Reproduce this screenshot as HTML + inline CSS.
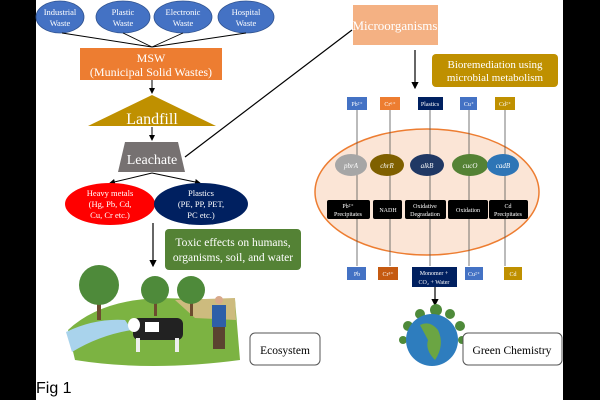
<!DOCTYPE html>
<html><head><meta charset="utf-8"><style>
html,body{margin:0;padding:0;background:#fff;}
svg{display:block;font-family:"Liberation Serif",serif;}
</style></head><body>
<svg width="600" height="400" viewBox="0 0 600 400" xmlns="http://www.w3.org/2000/svg">
<defs><marker id="a" markerWidth="6" markerHeight="6" refX="5" refY="3" orient="auto"><path d="M0,0L6,3L0,6z" fill="#000"/></marker></defs>
<rect x="0" y="0" width="36" height="400" fill="#000"/>
<rect x="563" y="0" width="37" height="400" fill="#000"/>
<g fill="#4472C4" stroke="#2F528F" stroke-width="0.8">
<ellipse cx="60" cy="17" rx="24" ry="16"/><ellipse cx="123" cy="17" rx="27" ry="16"/>
<ellipse cx="183" cy="17" rx="29" ry="16"/><ellipse cx="246" cy="17" rx="28" ry="16"/></g>
<g fill="#fff" font-size="8.5" text-anchor="middle">
<text x="60" y="15">Industrial</text><text x="60" y="26">Waste</text>
<text x="123" y="15">Plastic</text><text x="123" y="26">Waste</text>
<text x="183" y="15">Electronic</text><text x="183" y="26">Waste</text>
<text x="246" y="15">Hospital</text><text x="246" y="26">Waste</text></g>
<g stroke="#000" stroke-width="0.9">
<line x1="62" y1="33" x2="152" y2="47"/><line x1="123" y1="33" x2="152" y2="47"/>
<line x1="183" y1="33" x2="152" y2="47"/><line x1="246" y1="33" x2="152" y2="47"/></g>
<rect x="80" y="48" width="142" height="32" fill="#ED7D31"/>
<text x="151" y="62" fill="#fff" font-size="12" text-anchor="middle">MSW</text>
<text x="151" y="76" fill="#fff" font-size="12" text-anchor="middle">(Municipal Solid Wastes)</text>
<line x1="152" y1="80" x2="152" y2="93" stroke="#000" marker-end="url(#a)"/>
<polygon points="152,95 88,126 216,126" fill="#BF9000"/>
<text x="152" y="124" fill="#fff" font-size="16" text-anchor="middle">Landfill</text>
<line x1="152" y1="127" x2="152" y2="140" stroke="#000" marker-end="url(#a)"/>
<polygon points="125,142 178,142 185,172 118,172" fill="#767171"/>
<text x="152" y="164" fill="#fff" font-size="14" text-anchor="middle">Leachate</text>
<line x1="185" y1="157" x2="352" y2="30" stroke="#000" stroke-width="1.2"/>
<line x1="152" y1="173" x2="110" y2="183" stroke="#000" marker-end="url(#a)"/>
<line x1="152" y1="173" x2="200" y2="183" stroke="#000" marker-end="url(#a)"/>
<ellipse cx="110" cy="204" rx="45" ry="21" fill="#FF0000"/>
<ellipse cx="201" cy="204" rx="47" ry="21" fill="#002060"/>
<g fill="#fff" font-size="8.5" text-anchor="middle">
<text x="110" y="196">Heavy metals</text><text x="110" y="207">(Hg, Pb, Cd,</text><text x="110" y="218">Cu, Cr etc.)</text>
<text x="201" y="196">Plastics</text><text x="201" y="207">(PE, PP, PET,</text><text x="201" y="218">PC etc.)</text></g>
<line x1="153" y1="223" x2="153" y2="266" stroke="#000" stroke-width="1.2" marker-end="url(#a)"/>
<rect x="165" y="229" width="136" height="41" rx="4" fill="#548235"/>
<text x="233" y="246" fill="#fff" font-size="11.5" text-anchor="middle">Toxic effects on humans,</text>
<text x="233" y="261" fill="#fff" font-size="11.5" text-anchor="middle">organisms, soil, and water</text>
<path d="M68,330 Q100,300 160,298 L235,300 L240,360 Q150,372 75,360 Z" fill="#7CB342"/>
<path d="M66,332 Q95,318 125,320 L132,330 Q100,335 72,352 Z" fill="#A9D3EC"/>
<path d="M175,300 L235,298 L236,320 L195,318 Z" fill="#CDBB7E"/>
<rect x="97" y="300" width="4" height="20" fill="#6D4C2F"/><circle cx="99" cy="285" r="20" fill="#4E8A3A"/>
<rect x="154" y="300" width="3" height="16" fill="#6D4C2F"/><circle cx="155" cy="290" r="14" fill="#4E8A3A"/>
<rect x="190" y="300" width="3" height="16" fill="#6D4C2F"/><circle cx="191" cy="290" r="14" fill="#4E8A3A"/>
<rect x="212" y="305" width="14" height="22" fill="#2E5FA8"/><circle cx="219" cy="300" r="4" fill="#D9A98A"/>
<rect x="213" y="327" width="12" height="22" fill="#5B4330"/>
<rect x="133" y="318" width="50" height="22" rx="6" fill="#222"/><rect x="145" y="322" width="14" height="10" fill="#fff"/>
<rect x="136" y="338" width="4" height="14" fill="#eee"/><rect x="175" y="338" width="4" height="14" fill="#eee"/>
<ellipse cx="134" cy="325" rx="6" ry="7" fill="#fff"/>
<rect x="250" y="333" width="70" height="32" rx="5" fill="#fff" stroke="#555"/>
<text x="285" y="354" font-size="11.5" text-anchor="middle">Ecosystem</text>
<rect x="353" y="5" width="85" height="40" fill="#F4B183"/>
<text x="395" y="30" fill="#fff" font-size="13" text-anchor="middle">Microorganisms</text>
<line x1="415" y1="50" x2="415" y2="88" stroke="#000" stroke-width="1.2" marker-end="url(#a)"/>
<rect x="432" y="54" width="126" height="33" rx="4" fill="#BF9000"/>
<text x="495" y="68" fill="#fff" font-size="11" text-anchor="middle">Bioremediation using</text>
<text x="495" y="81" fill="#fff" font-size="11" text-anchor="middle">microbial metabolism</text>
<ellipse cx="427" cy="192" rx="112" ry="63" fill="#FBE5D6" stroke="#ED7D31" stroke-width="1.5"/>
<g stroke="#555" stroke-width="0.8">
<line x1="357" y1="110" x2="357" y2="266"/><line x1="390" y1="110" x2="390" y2="266"/>
<line x1="430" y1="110" x2="430" y2="266"/><line x1="469" y1="110" x2="469" y2="266"/>
<line x1="505" y1="110" x2="505" y2="266"/></g>
<g font-size="6" fill="#fff" text-anchor="middle">
<rect x="347" y="97" width="20" height="13" fill="#4472C4"/><text x="357" y="106">Pb²⁺</text>
<rect x="380" y="97" width="20" height="13" fill="#ED7D31"/><text x="390" y="106">Cr⁶⁺</text>
<rect x="418" y="97" width="25" height="13" fill="#002060"/><text x="430" y="106">Plastics</text>
<rect x="460" y="97" width="17" height="13" fill="#4472C4"/><text x="469" y="106">Cu⁺</text>
<rect x="495" y="97" width="20" height="13" fill="#BF9000"/><text x="505" y="106">Cd²⁺</text>
<ellipse cx="351" cy="165" rx="16" ry="11" fill="#A6A6A6"/><text x="351" y="168" font-style="italic" font-size="7">pbrA</text>
<ellipse cx="387" cy="165" rx="17" ry="11" fill="#7F6000"/><text x="387" y="168" font-style="italic" font-size="7">chrR</text>
<ellipse cx="427" cy="165" rx="17" ry="11" fill="#203864"/><text x="427" y="168" font-style="italic" font-size="7">alkB</text>
<ellipse cx="470" cy="165" rx="18" ry="11" fill="#548235"/><text x="470" y="168" font-style="italic" font-size="7">cucO</text>
<ellipse cx="503" cy="165" rx="16" ry="11" fill="#2E75B6"/><text x="503" y="168" font-style="italic" font-size="7">cadB</text>
<rect x="327" y="200" width="43" height="19" rx="2" fill="#000"/><text x="348" y="208">Pb²⁺</text><text x="348" y="216">Precipitates</text>
<rect x="373" y="200" width="29" height="19" rx="2" fill="#000"/><text x="388" y="212">NADH</text>
<rect x="405" y="200" width="41" height="19" rx="2" fill="#000"/><text x="425" y="208">Oxidative</text><text x="425" y="216">Degradation</text>
<rect x="448" y="200" width="40" height="19" rx="2" fill="#000"/><text x="468" y="212">Oxidation</text>
<rect x="489" y="200" width="39" height="19" rx="2" fill="#000"/><text x="508" y="208">Cd</text><text x="508" y="216">Precipitates</text>
<rect x="347" y="267" width="19" height="13" fill="#4472C4"/><text x="357" y="276">Pb</text>
<rect x="378" y="267" width="20" height="13" fill="#C55A11"/><text x="388" y="276">Cr³⁺</text>
<rect x="412" y="267" width="45" height="20" fill="#002060"/><text x="434" y="275">Monomer +</text><text x="434" y="284">CO₂ + Water</text>
<rect x="465" y="267" width="18" height="13" fill="#4472C4"/><text x="474" y="276">Cu²⁺</text>
<rect x="504" y="267" width="18" height="13" fill="#BF9000"/><text x="513" y="276">Cd</text></g>
<line x1="435" y1="287" x2="435" y2="305" stroke="#000" stroke-width="1.2" marker-end="url(#a)"/>
<g fill="#4E8A3A"><circle cx="420" cy="314" r="5"/><circle cx="436" cy="310" r="6"/><circle cx="450" cy="314" r="5"/><circle cx="408" cy="326" r="5"/><circle cx="460" cy="326" r="5"/><circle cx="403" cy="340" r="4"/><circle cx="462" cy="340" r="4"/></g>
<circle cx="432" cy="340" r="26" fill="#2E7DBE"/>
<path d="M420,325 Q430,320 438,330 Q445,345 435,360 Q425,350 428,340 Z" fill="#6BA543"/>
<rect x="463" y="333" width="99" height="32" rx="5" fill="#fff" stroke="#555"/>
<text x="512" y="354" font-size="11.5" text-anchor="middle">Green Chemistry</text>
<text x="36" y="393" font-family="Liberation Sans,sans-serif" font-size="16" fill="#000">Fig 1</text>
</svg>
</body></html>
